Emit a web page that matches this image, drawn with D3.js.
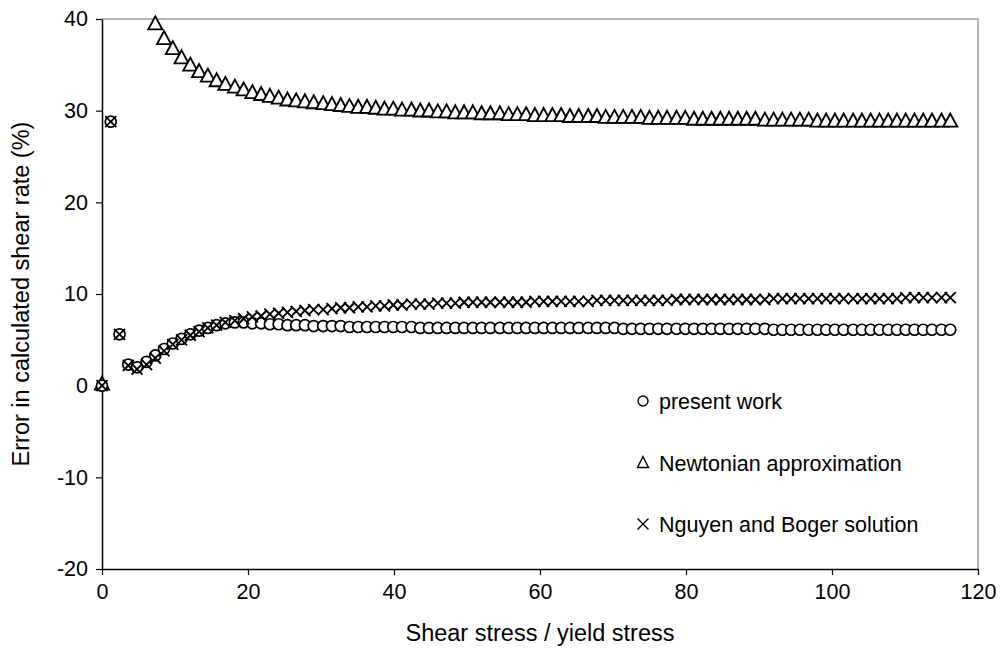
<!DOCTYPE html>
<html>
<head>
<meta charset="utf-8">
<script src="https://cdn.jsdelivr.net/npm/d3@7"></script>
<style>
  body { margin: 0; background: #fff; }
  svg text { font-family: "Liberation Sans", Arial, sans-serif; fill: #000; }
</style>
</head>
<body>
<svg id="chart" width="1002" height="653"></svg>
<script>
// shear stress / yield stress
var ratio = [0, 1.2, 2.4, 3.6, 4.8, 6.1, 7.3, 8.5, 9.7, 10.9,
  12.1, 13.3, 14.5, 15.7, 16.9, 18.2, 19.4, 20.6, 21.8, 23.0,
  24.2, 25.4, 26.6, 27.8, 29.0, 30.3, 31.5, 32.7, 33.9, 35.1,
  36.3, 37.5, 38.7, 39.9, 41.1, 42.4, 43.6, 44.8, 46.0, 47.2,
  48.4, 49.6, 50.8, 52.0, 53.2, 54.5, 55.7, 56.9, 58.1, 59.3,
  60.5, 61.7, 62.9, 64.1, 65.3, 66.6, 67.8, 69.0, 70.2, 71.4,
  72.6, 73.8, 75.0, 76.2, 77.4, 78.7, 79.9, 81.1, 82.3, 83.5,
  84.7, 85.9, 87.1, 88.3, 89.5, 90.8, 92.0, 93.2, 94.4, 95.6,
  96.8, 98.0, 99.2, 100.4, 101.6, 102.9, 104.1, 105.3, 106.5, 107.7,
  108.9, 110.1, 111.3, 112.5, 113.7, 115.0, 116.2];

// error (%) - present work
var presentWork = [0, 28.8, 5.6, 2.3, 2.0, 2.6, 3.3, 4.0, 4.6, 5.1,
  5.6, 6.0, 6.3, 6.6, 6.8, 6.9, 6.9, 6.8, 6.8, 6.7,
  6.7, 6.6, 6.6, 6.6, 6.5, 6.5, 6.5, 6.5, 6.4, 6.4,
  6.4, 6.4, 6.4, 6.4, 6.4, 6.4, 6.3, 6.3, 6.3, 6.3,
  6.3, 6.3, 6.3, 6.3, 6.3, 6.3, 6.3, 6.3, 6.3, 6.3,
  6.3, 6.3, 6.3, 6.3, 6.3, 6.3, 6.3, 6.3, 6.3, 6.2,
  6.2, 6.2, 6.2, 6.2, 6.2, 6.2, 6.2, 6.2, 6.2, 6.2,
  6.2, 6.2, 6.2, 6.2, 6.2, 6.2, 6.1, 6.1, 6.1, 6.1,
  6.1, 6.1, 6.1, 6.1, 6.1, 6.1, 6.1, 6.1, 6.1, 6.1,
  6.1, 6.1, 6.1, 6.1, 6.1, 6.1, 6.1];

// error (%) - Newtonian approximation (null = above the axis range)
var newtonian = [0, null, null, null, null, null, 39.3, 37.7, 36.6, 35.6,
  34.8, 34.1, 33.6, 33.1, 32.7, 32.4, 32.1, 31.8, 31.6, 31.4,
  31.2, 31.0, 30.9, 30.8, 30.7, 30.6, 30.5, 30.4, 30.3, 30.2,
  30.2, 30.1, 30.0, 30.0, 29.9, 29.9, 29.8, 29.8, 29.7, 29.7,
  29.6, 29.6, 29.6, 29.5, 29.5, 29.5, 29.4, 29.4, 29.4, 29.3,
  29.3, 29.3, 29.3, 29.2, 29.2, 29.2, 29.2, 29.1, 29.1, 29.1,
  29.1, 29.1, 29.0, 29.0, 29.0, 29.0, 29.0, 28.9, 28.9, 28.9,
  28.9, 28.9, 28.9, 28.9, 28.9, 28.8, 28.8, 28.8, 28.8, 28.8,
  28.8, 28.7, 28.7, 28.7, 28.7, 28.7, 28.7, 28.7, 28.7, 28.7,
  28.7, 28.7, 28.7, 28.7, 28.7, 28.7, 28.7];

// error (%) - Nguyen and Boger solution
var nguyenBoger = [0, 28.8, 5.6, 2.2, 1.8, 2.3, 3.0, 3.8, 4.5, 5.0,
  5.5, 5.9, 6.3, 6.6, 6.9, 7.1, 7.3, 7.5, 7.6, 7.8,
  7.9, 8.0, 8.1, 8.2, 8.3, 8.3, 8.4, 8.5, 8.5, 8.6,
  8.6, 8.7, 8.7, 8.8, 8.8, 8.9, 8.9, 8.9, 9.0, 9.0,
  9.0, 9.1, 9.1, 9.1, 9.1, 9.1, 9.1, 9.1, 9.1, 9.2,
  9.2, 9.2, 9.2, 9.2, 9.2, 9.2, 9.3, 9.3, 9.3, 9.3,
  9.3, 9.3, 9.3, 9.3, 9.3, 9.4, 9.4, 9.4, 9.4, 9.4,
  9.4, 9.4, 9.4, 9.4, 9.4, 9.4, 9.5, 9.5, 9.5, 9.5,
  9.5, 9.5, 9.5, 9.5, 9.5, 9.5, 9.5, 9.5, 9.5, 9.5,
  9.5, 9.6, 9.6, 9.6, 9.6, 9.6, 9.6];

var xTicks = [0, 20, 40, 60, 80, 100, 120];
var yTicks = [-20, -10, 0, 10, 20, 30, 40];

var legendLabels = ["present work", "Newtonian approximation", "Nguyen and Boger solution"];

var svg = d3.select("#chart"),
    margin = {top: 19, right: 24, bottom: 84, left: 102},
    width = +svg.attr("width") - margin.left - margin.right,
    height = +svg.attr("height") - margin.top - margin.bottom;

var x = d3.scaleLinear().domain([0, 120]).range([0, width]);
var y = d3.scaleLinear().domain([-20, 40]).range([height, 0]);

var g = svg.append("g").attr("transform", "translate(" + margin.left + "," + margin.top + ")");

// plot area frame (grey top/right)
g.append("path")
  .attr("d", "M0,0H" + width + "V" + height)
  .attr("fill", "none")
  .attr("stroke", "#9a9a9a")
  .attr("stroke-width", 1.5);

// axes
var fmt = function(d) { return String(d); }; // plain hyphen minus like Excel

var xAxis = g.append("g")
  .attr("transform", "translate(0," + height + ")")
  .call(d3.axisBottom(x).tickValues(xTicks).tickFormat(fmt).tickSize(6).tickSizeOuter(0).tickPadding(9));

var yAxis = g.append("g")
  .call(d3.axisLeft(y).tickValues(yTicks).tickFormat(fmt).tickSize(6).tickSizeOuter(0).tickPadding(8));

[xAxis, yAxis].forEach(function(a) {
  a.select(".domain").attr("stroke", "#000").attr("stroke-width", 1.5);
  a.selectAll(".tick line").attr("stroke", "#000").attr("stroke-width", 1.2);
  a.selectAll(".tick text").style("font-size", "21.5px").attr("fill", "#000");
});

// markers
g.append("defs").append("clipPath").attr("id", "plotclip")
  .append("rect").attr("x", -9).attr("y", -9).attr("width", width + 18).attr("height", height + 18);

function pts(vals) {
  return ratio.map(function(r, i) { return {x: r, y: vals[i]}; })
    .filter(function(d) { return d.y != null && d.y <= 40; });
}

var triPath = "M0,-8L7,5L-7,5Z";
var crossPath = "M-5.5,-5.5L5.5,5.5M5.5,-5.5L-5.5,5.5";

var marks = g.append("g").attr("clip-path", "url(#plotclip)");

marks.append("g").selectAll("path")
  .data(pts(newtonian))
  .enter().append("path")
  .attr("d", triPath)
  .attr("transform", function(d) { return "translate(" + x(d.x) + "," + (y(d.y) - 1) + ")"; })
  .attr("fill", "#fff")
  .attr("stroke", "#000")
  .attr("stroke-width", 1.9)
  .attr("stroke-linejoin", "miter");

marks.append("g").selectAll("circle")
  .data(pts(presentWork))
  .enter().append("circle")
  .attr("cx", function(d) { return x(d.x); })
  .attr("cy", function(d) { return y(d.y); })
  .attr("r", 5.5)
  .attr("fill", "#fff")
  .attr("stroke", "#000")
  .attr("stroke-width", 1.7);

marks.append("g").selectAll("path")
  .data(pts(nguyenBoger))
  .enter().append("path")
  .attr("d", crossPath)
  .attr("transform", function(d) { return "translate(" + x(d.x) + "," + y(d.y) + ")"; })
  .attr("fill", "none")
  .attr("stroke", "#000")
  .attr("stroke-width", 1.9);

// axis titles
svg.append("text")
  .attr("x", margin.left + width / 2)
  .attr("y", 641)
  .attr("text-anchor", "middle")
  .style("font-size", "23.5px")
  .text("Shear stress / yield stress");

svg.append("text")
  .attr("transform", "translate(29," + (margin.top + height / 2) + ") rotate(-90)")
  .attr("text-anchor", "middle")
  .style("font-size", "23.5px")
  .text("Error in calculated shear rate (%)");

// legend
var legend = svg.append("g").attr("transform", "translate(643,401)");
var rows = legend.selectAll("g").data(legendLabels).enter().append("g")
  .attr("transform", function(d, i) { return "translate(0," + (i * 61.5) + ")"; });

rows.append("text")
  .attr("x", 16)
  .attr("y", 8)
  .style("font-size", "21.5px")
  .text(function(d) { return d; });

rows.filter(function(d, i) { return i === 0; }).append("circle")
  .attr("r", 5).attr("fill", "none").attr("stroke", "#000").attr("stroke-width", 1.4);
rows.filter(function(d, i) { return i === 1; }).append("path")
  .attr("d", "M0,-6L5.5,5L-5.5,5Z").attr("fill", "none").attr("stroke", "#000").attr("stroke-width", 1.4);
rows.filter(function(d, i) { return i === 2; }).append("path")
  .attr("d", "M-5.5,-5.5L5.5,5.5M5.5,-5.5L-5.5,5.5").attr("fill", "none").attr("stroke", "#000").attr("stroke-width", 1.4);
</script>
</body>
</html>
